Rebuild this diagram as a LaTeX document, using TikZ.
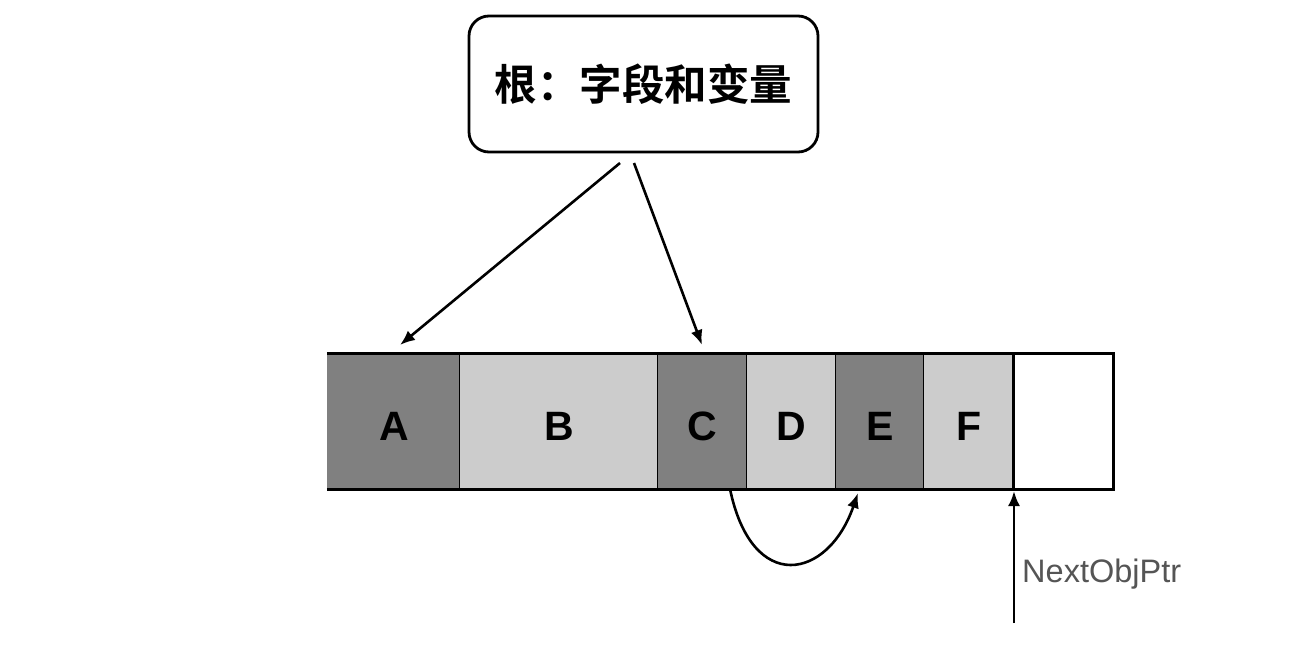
\documentclass[tikz,border=0pt]{standalone}
\usepackage{fontspec}
\setmainfont{Liberation Sans}
\newfontfamily\cjk{Noto Sans CJK SC}[BoldFont={* Bold}]
\usetikzlibrary{arrows.meta,calc}
\definecolor{darkcell}{HTML}{808080}
\definecolor{lightcell}{HTML}{CCCCCC}
\definecolor{labelgray}{HTML}{555555}
\tikzset{
  cell/.style={rectangle, inner sep=0pt, minimum height=135pt, text=black},
  celltext/.style={font=\fontsize{41}{44}\selectfont\bfseries, inner sep=0pt},
  arr/.style={line width=2.6pt, -{Latex[length=15pt,width=12pt]}},
}
\begin{document}
\begin{tikzpicture}[x=1pt,y=-1pt]
\useasboundingbox (0,0) rectangle (1308,650);
% root box
\node[draw, line width=2.8pt, rounded corners=20pt, minimum width=349pt, minimum height=136pt, inner sep=0pt, font=\cjk\bfseries\fontsize{42.5}{45}\selectfont] (root) at (643.5,84) {根：字段和变量};
% cells
\node[cell, fill=darkcell, minimum width=132pt] (A) at (393,421.5) {};
\node[cell, fill=lightcell, minimum width=198pt] (B) at (558,421.5) {};
\node[cell, fill=darkcell, minimum width=89pt] (C) at (701.5,421.5) {};
\node[cell, fill=lightcell, minimum width=89pt] (D) at (790.5,421.5) {};
\node[cell, fill=darkcell, minimum width=88pt] (E) at (879,421.5) {};
\node[cell, fill=lightcell, minimum width=90pt] (F) at (968,421.5) {};
\node[cell, fill=white, minimum width=100pt] (G) at (1063,421.5) {};
\foreach \n in {A,B,C,D,E,F} \node[celltext, anchor=base] (t\n) at ($(\n.center)+(1,440-421.5)$) {\n};
% dividers
\foreach \a/\b in {A/B,B/C,C/D,D/E,E/F} \draw[line width=1.2pt] (\a.north east) -- (\a.south east);
% outer lines
\draw[line width=2.8pt] (A.north west) -- (G.north west);
\draw[line width=2.8pt] (A.south west) -- (G.south west);
\draw[line width=2.8pt] (F.north east) rectangle (G.south east);
% arrows from root
\coordinate (r1) at (620,163);
\coordinate (r2) at (634,163);
\coordinate (a1) at (400,345);
\coordinate (c1) at (702,345);
\draw[arr] (r1) -- (a1);
\draw[arr] (r2) -- (c1);
% curved arrow C -> E
\coordinate (cs) at (730,489);
\coordinate (ee) at (858,493);
\draw[arr] (cs) .. controls (752,595) and (828,580) .. (ee);
% NextObjPtr
\coordinate (np) at (1014,623);
\coordinate (gt) at (1014,491);
\draw[arr] (np) -- (gt);
\node[anchor=west, text=labelgray, font=\fontsize{32.5}{34}\selectfont, inner sep=0pt] (lbl) at (1022,574) {NextObjPtr};
\end{tikzpicture}
\end{document}
